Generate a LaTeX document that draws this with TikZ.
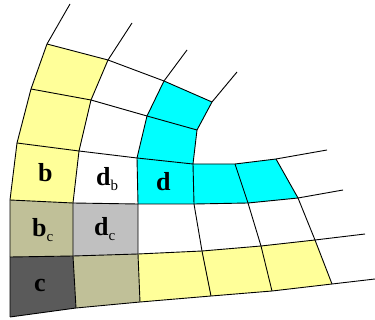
\documentclass[tikz,border=0pt]{standalone}
\usepackage{fontspec}
\setmainfont{Liberation Serif}
\definecolor{myyellow}{RGB}{255,255,153}
\definecolor{mycyan}{RGB}{0,255,255}
\definecolor{myolive}{RGB}{192,192,152}
\definecolor{mylgray}{RGB}{192,192,192}
\definecolor{mydgray}{RGB}{90,90,90}
\newcommand\mainlet[1]{{\fontsize{26}{26}\selectfont\bfseries #1}}
\newcommand\sublet[1]{\raisebox{-4.5pt}{\fontsize{15}{15}\selectfont #1}}
\tikzset{
  gridline/.style={line width=0.9pt, line join=round},
  lbl/.style={inner sep=0pt, anchor=base west}
}
\begin{document}
\begin{tikzpicture}[x=1pt,y=-1pt]
\useasboundingbox (0,0) rectangle (375,320);
% row 0 (bottom)
\coordinate (p00) at (10,317); \coordinate (p01) at (76,308); \coordinate (p02) at (140,302);
\coordinate (p03) at (211,296); \coordinate (p04) at (272,291); \coordinate (p05) at (332,284);
\coordinate (s0) at (375,279);
% row 1
\coordinate (p10) at (10,257); \coordinate (p11) at (73,256); \coordinate (p12) at (138,254);
\coordinate (p13) at (202,251); \coordinate (p14) at (261,246); \coordinate (p15) at (315,240);
\coordinate (s1) at (365,234);
% row 2
\coordinate (p20) at (10,200); \coordinate (p21) at (73,203); \coordinate (p22) at (138,204);
\coordinate (p23) at (194,204); \coordinate (p24) at (248,203); \coordinate (p25) at (298,198);
\coordinate (s2) at (343,190);
% row 3
\coordinate (p30) at (17,143); \coordinate (p31) at (79,151); \coordinate (p32) at (137,158);
\coordinate (p33) at (193,164); \coordinate (p34) at (235,164); \coordinate (p35) at (276,159);
\coordinate (s3) at (327,150);
% row 4
\coordinate (p40) at (31,89); \coordinate (p41) at (91,100); \coordinate (p42) at (147,116);
\coordinate (p43) at (197,130);
% row 5
\coordinate (p50) at (47,44); \coordinate (p51) at (108,60); \coordinate (p52) at (164,81);
\coordinate (p53) at (212,102);
% upward stubs
\coordinate (t0) at (70,4); \coordinate (t1) at (132,23); \coordinate (t2) at (187,50);
\coordinate (t3) at (237,72);

% cell fills
\foreach \r/\c/\col in {0/0/mydgray,0/1/myolive,0/2/myyellow,0/3/myyellow,0/4/myyellow,
  1/0/myolive,1/1/mylgray,
  2/0/myyellow,2/2/mycyan,2/3/mycyan,2/4/mycyan,
  3/0/myyellow,3/2/mycyan,
  4/0/myyellow,4/2/mycyan}{
  \pgfmathtruncatemacro\rr{\r+1}
  \pgfmathtruncatemacro\cc{\c+1}
  \fill[\col] (p\r\c) -- (p\r\cc) -- (p\rr\cc) -- (p\rr\c) -- cycle;
}

% row lines
\draw[gridline] (p00) -- (p01) -- (p02) -- (p03) -- (p04) -- (p05) -- (s0);
\draw[gridline] (p10) -- (p11) -- (p12) -- (p13) -- (p14) -- (p15) -- (s1);
\draw[gridline] (p20) -- (p21) -- (p22) -- (p23) -- (p24) -- (p25) -- (s2);
\draw[gridline] (p30) -- (p31) -- (p32) -- (p33) -- (p34) -- (p35) -- (s3);
\draw[gridline] (p40) -- (p41) -- (p42) -- (p43);
\draw[gridline] (p50) -- (p51) -- (p52) -- (p53);
% column lines
\draw[gridline] (p00) -- (p10) -- (p20) -- (p30) -- (p40) -- (p50) -- (t0);
\draw[gridline] (p01) -- (p11) -- (p21) -- (p31) -- (p41) -- (p51) -- (t1);
\draw[gridline] (p02) -- (p12) -- (p22) -- (p32) -- (p42) -- (p52) -- (t2);
\draw[gridline] (p03) -- (p13) -- (p23) -- (p33) -- (p43) -- (p53) -- (t3);
\draw[gridline] (p04) -- (p14) -- (p24) -- (p34);
\draw[gridline] (p05) -- (p15) -- (p25) -- (p35);

% labels
\node[lbl] (lb) at (38,182) {\mainlet{b}};
\node[lbl] (ldb) at (96,186) {\mainlet{d}\sublet{b}};
\node[lbl] (ld) at (156,191) {\mainlet{d}};
\node[lbl] (lbc) at (32,237) {\mainlet{b}\sublet{c}};
\node[lbl] (ldc) at (94,236) {\mainlet{d}\sublet{c}};
\node[lbl] (lc) at (34,292) {\mainlet{c}};
\end{tikzpicture}
\end{document}
